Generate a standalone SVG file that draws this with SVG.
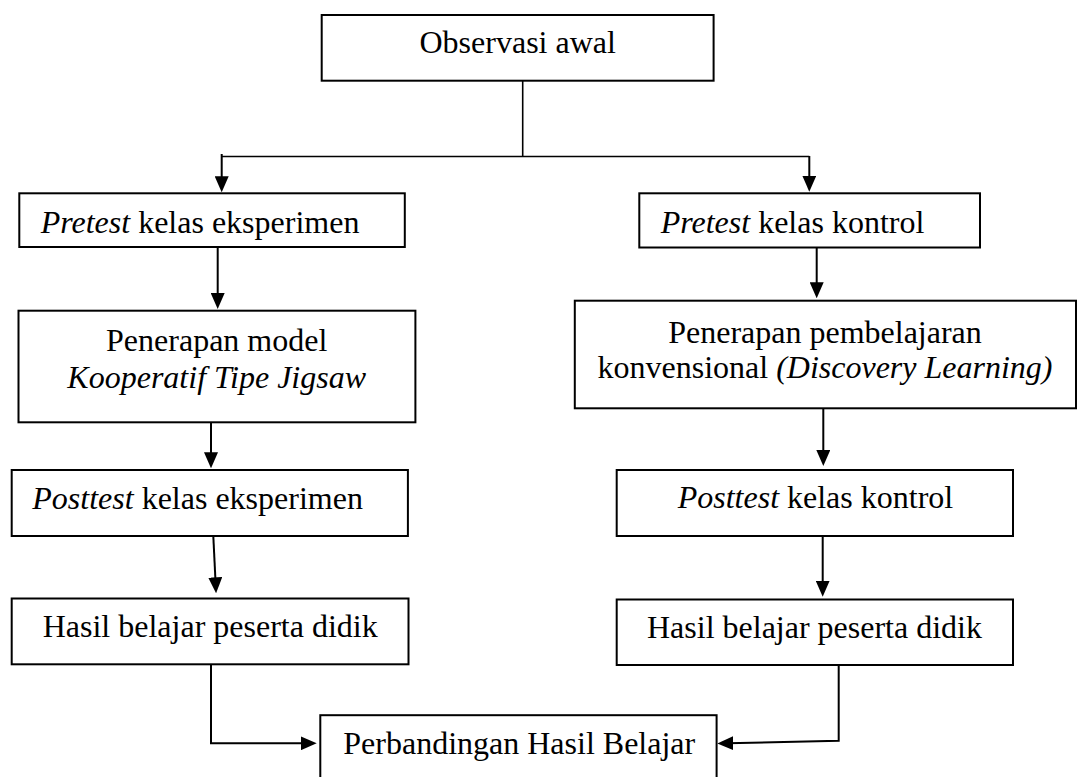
<svg xmlns="http://www.w3.org/2000/svg" width="1079" height="777" viewBox="0 0 1079 777">
<style>
.box{fill:#fff;stroke:#000;stroke-width:2}
.t{font-family:'Liberation Serif','Times New Roman',Times,serif;font-size:32px;fill:#000}
.i{font-style:italic}
.c{fill:none;stroke:#000;stroke-width:2}
.thin{fill:none;stroke:#000;stroke-width:1.6}
</style>
<defs>
<marker id="ah" viewBox="0 0 16 14" refX="6" refY="7" markerWidth="16" markerHeight="14" markerUnits="userSpaceOnUse" orient="auto">
<path d="M0,0 L16,7 L0,14 Z" fill="#000"/>
</marker>
</defs>
<rect width="1079" height="777" fill="#fff"/>
<g id="connectors">
<line class="thin" x1="522.7" y1="80.7" x2="522.7" y2="156.5"/>
<line class="thin" x1="221.7" y1="156.5" x2="809.3" y2="156.5"/>
<line class="c" x1="221.7" y1="154" x2="221.7" y2="182.3" marker-end="url(#ah)"/>
<line class="c" x1="809.3" y1="156" x2="809.3" y2="181.7" marker-end="url(#ah)"/>
<line class="c" x1="217.7" y1="247" x2="217.7" y2="299" marker-end="url(#ah)"/>
<line class="c" x1="816.7" y1="245" x2="816.7" y2="288.3" marker-end="url(#ah)"/>
<line class="c" x1="211" y1="422" x2="211" y2="458.3" marker-end="url(#ah)"/>
<line class="c" x1="823.3" y1="407" x2="823.3" y2="456" marker-end="url(#ah)"/>
<line class="c" x1="213.3" y1="536" x2="215.6" y2="583.3" marker-end="url(#ah)"/>
<line class="c" x1="822.7" y1="536" x2="822.7" y2="586.7" marker-end="url(#ah)"/>
<polyline class="c" points="211,664 211,743.3 306.7,743.3" marker-end="url(#ah)"/>
<polyline class="c" points="838.7,665 838.7,740.7 727.3,743.3" marker-end="url(#ah)"/>
</g>
<g id="observasi">
<rect class="box" x="321.7" y="15" width="391.9" height="65.7"/>
<text class="t" x="517.7" y="53.3" text-anchor="middle">Observasi awal</text>
</g>
<g id="pretest-eksperimen">
<rect class="box" x="19.3" y="193.3" width="385.5" height="53.7"/>
<text class="t" x="40.7" y="232.7"><tspan class="i">Pretest</tspan> kelas eksperimen</text>
</g>
<g id="pretest-kontrol">
<rect class="box" x="639.3" y="193.3" width="340.7" height="54.2"/>
<text class="t" x="660.7" y="232.7"><tspan class="i">Pretest</tspan> kelas kontrol</text>
</g>
<g id="penerapan-model">
<rect class="box" x="18.5" y="310.7" width="396.9" height="111.6"/>
<text class="t" x="216.7" y="350.7" text-anchor="middle">Penerapan model</text>
<text class="t i" x="216.7" y="388.3" text-anchor="middle">Kooperatif Tipe Jigsaw</text>
</g>
<g id="penerapan-konvensional">
<rect class="box" x="574.8" y="300.7" width="501.2" height="107.6"/>
<text class="t" x="825" y="342.7" text-anchor="middle">Penerapan pembelajaran</text>
<text class="t" x="825" y="377.5" text-anchor="middle">konvensional <tspan class="i">(Discovery Learning)</tspan></text>
</g>
<g id="posttest-eksperimen">
<rect class="box" x="11.7" y="470" width="396.2" height="66"/>
<text class="t" x="32.3" y="509.3"><tspan class="i">Posttest</tspan> kelas eksperimen</text>
</g>
<g id="posttest-kontrol">
<rect class="box" x="616.7" y="470" width="396.3" height="66"/>
<text class="t" x="677.7" y="508.3"><tspan class="i">Posttest</tspan> kelas kontrol</text>
</g>
<g id="hasil-eksperimen">
<rect class="box" x="11.7" y="598.5" width="396.8" height="65.8"/>
<text class="t" x="42.7" y="637.3">Hasil belajar peserta didik</text>
</g>
<g id="hasil-kontrol">
<rect class="box" x="616.7" y="599.5" width="396.3" height="65.5"/>
<text class="t" x="647" y="638.3">Hasil belajar peserta didik</text>
</g>
<g id="perbandingan">
<rect class="box" x="320.3" y="715.2" width="396.3" height="70"/>
<text class="t" x="343.3" y="754">Perbandingan Hasil Belajar</text>
</g>
</svg>
